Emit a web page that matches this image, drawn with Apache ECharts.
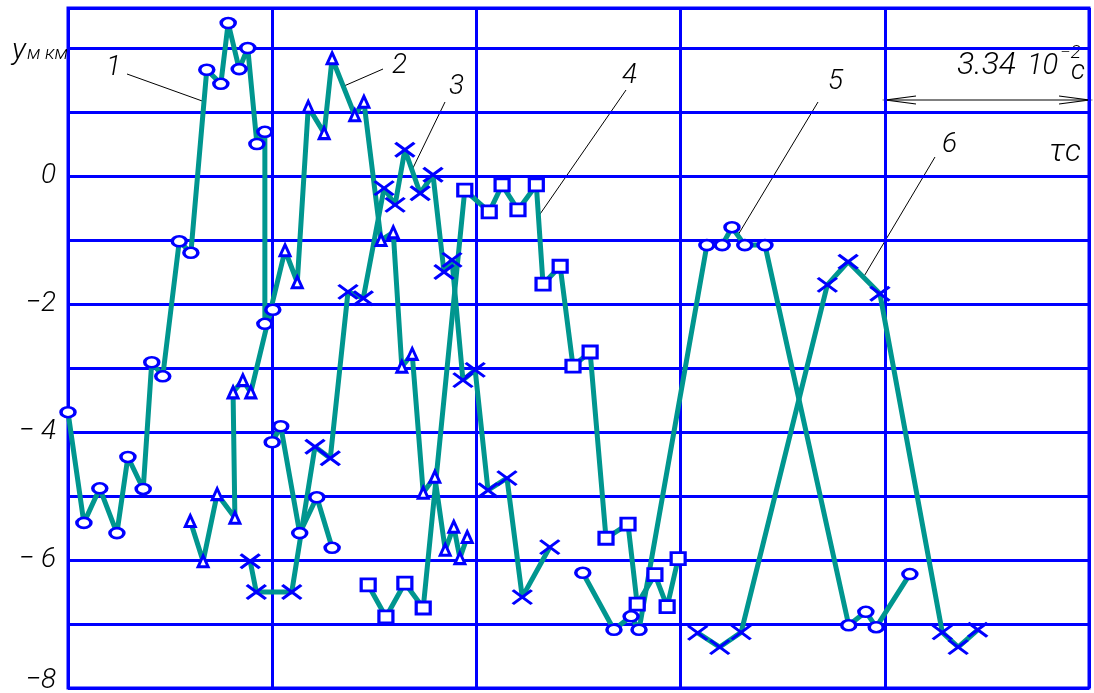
<!DOCTYPE html>
<html><head><meta charset="utf-8">
<script src="https://cdn.jsdelivr.net/npm/echarts@6/dist/echarts.min.js"></script>
<style>html,body{margin:0;padding:0;background:#fff;}#c{width:1094px;height:693px;}</style>
</head><body><div id="c"></div>
<script>
// τ in 10^-2 s, y in µm
const curve1a = [[0,-3.69],[0.26,-5.42],[0.52,-4.88],[0.80,-5.58],[0.98,-4.39],[1.23,-4.89],[1.37,-2.91],[1.55,-3.13],[1.82,-1.02],[2.01,-1.20],[2.27,1.66],[2.50,1.44],[2.62,2.39],[2.80,1.67],[2.94,2.00],[3.09,0.50],[3.22,0.69],[3.22,-2.31],[3.35,-2.09]];
const curve1b = [[3.34,-4.16],[3.48,-3.91],[3.79,-5.58],[4.07,-5.02],[4.32,-5.81]];
const curve2 = [[2.00,-5.39],[2.21,-6.02],[2.44,-4.97],[2.73,-5.34],[2.70,-3.38],[2.86,-3.19],[2.99,-3.38],[3.55,-1.16],[3.75,-1.66],[3.93,1.08],[4.19,0.67],[4.32,1.84],[4.69,0.95],[4.84,1.16],[5.12,-1.00],[5.32,-0.88],[5.46,-2.98],[5.63,-2.78],[5.81,-4.95],[6.00,-4.70],[6.17,-5.84],[6.31,-5.48],[6.41,-5.97],[6.53,-5.64]];
const curve3 = [[2.98,-6.02],[3.08,-6.50],[3.66,-6.50],[4.04,-4.23],[4.29,-4.41],[4.58,-1.81],[4.83,-1.91],[5.17,-0.19],[5.35,-0.45],[5.51,0.41],[5.76,-0.27],[5.97,0.02],[6.15,-1.50],[6.28,-1.31],[6.46,-3.19],[6.66,-3.03],[6.87,-4.91],[7.18,-4.72],[7.43,-6.58],[7.88,-5.80]];
const curve4 = [[4.91,-6.39],[5.20,-6.89],[5.51,-6.36],[5.81,-6.75],[6.49,-0.22],[6.89,-0.56],[7.10,-0.14],[7.36,-0.53],[7.66,-0.14],[7.77,-1.69],[8.05,-1.41],[8.26,-2.97],[8.54,-2.75],[8.80,-5.66],[9.16,-5.44],[9.31,-6.69],[9.60,-6.23],[9.80,-6.73],[9.98,-5.98]];
const curve5 = [[8.42,-6.20],[8.93,-7.09],[9.21,-6.88],[9.34,-7.09],[10.45,-1.08],[10.70,-1.08],[10.86,-0.80],[11.07,-1.08],[11.40,-1.08],[12.77,-7.02],[13.05,-6.81],[13.22,-7.05],[13.77,-6.22]];
const curve6 = [[10.30,-7.14],[10.66,-7.36],[11.01,-7.13],[12.42,-1.70],[12.76,-1.34],[13.28,-1.84],[14.30,-7.13],[14.56,-7.36],[14.88,-7.09]];
const yTickLabels = {'0':'0','-2':'−2','-4':'− 4','-6':'− 6','-8':'−8'};
const xPeriod = 3.34;

const TEAL = '#00968f', BLUE = '#0000ff';
const FONT = 'Roboto';
const XSYM = 'path://M0,0L19,14M0,14L19,0';
function mk(name, data, symbol, size) {
  return {
    type: 'line', name, data, symbol, symbolSize: size, clip: false,
    lineStyle: { color: TEAL, width: 5 },
    itemStyle: { color: '#fff', borderColor: BLUE, borderWidth: 3 },
    emphasis: { disabled: true }
  };
}
const chart = echarts.init(document.getElementById('c'));
function txt(x, y, s, size) {
  return { type: 'text', x, y, style: { text: s, fill: '#000', font: 'italic 300 ' + size + 'px ' + FONT } };
}
function ln(x1, y1, x2, y2) {
  return { type: 'line', shape: { x1, y1, x2, y2 }, style: { stroke: '#000', lineWidth: 1 } };
}
const labelFont = { fontFamily: FONT, fontStyle: 'italic', fontWeight: 300, fontSize: 28, color: '#000' };
chart.setOption({
  animation: false,
  backgroundColor: '#fff',
  grid: { left: 68, right: 5, top: 8, bottom: 5, containLabel: false, outerBoundsMode: 'none', show: true, borderColor: BLUE, borderWidth: 3, backgroundColor: 'transparent' },
  xAxis: {
    type: 'value', min: 0, max: xPeriod * 5, interval: xPeriod,
    axisLine: { show: false }, axisTick: { show: false }, axisLabel: { show: false },
    splitLine: { show: true, lineStyle: { color: BLUE, width: 3 } }
  },
  yAxis: {
    type: 'value', min: -8, max: 2.625, interval: 1,
    axisLine: { show: false }, axisTick: { show: false },
    axisLabel: Object.assign({
      margin: 12,
      formatter: v => {
        const k = String(Math.round(v * 1000) / 1000);
        if (yTickLabels[k] === undefined) return '';
        return k === '-8' ? '{low|' + yTickLabels[k] + '}' : yTickLabels[k];
      },
      rich: { low: Object.assign({ padding: [0, 0, 14, 0] }, labelFont) }
    }, labelFont),
    splitLine: { show: true, lineStyle: { color: BLUE, width: 3 } }
  },
  series: [
    mk('1a', curve1a, 'circle', [14, 10]),
    mk('1b', curve1b, 'circle', [14, 10]),
    mk('2', curve2, 'triangle', [10, 11]),
    mk('3', curve3, XSYM, [19, 14]),
    mk('4', curve4, 'rect', [14, 12]),
    mk('5', curve5, 'circle', [14, 10]),
    mk('6', curve6, XSYM, [19, 14])
  ],
  graphic: [
    txt(12, 36, 'y', 30),
    txt(27, 45, 'м км', 19),
    txt(106, 54, '1', 28), txt(392, 52, '2', 28), txt(449, 73, '3', 28),
    txt(622, 62, '4', 28), txt(828, 68, '5', 28), txt(942, 131, '6', 28),
    txt(1049, 137, 'τс', 32),
    txt(957, 50, '3.34', 32), txt(1027, 52, '10', 29), txt(1060, 44, '−2', 19), txt(1071, 58, 'с', 28),
    ln(127, 74, 205, 102), ln(383, 69, 344, 86), ln(445, 102, 412, 170),
    ln(626, 90, 538, 217), ln(818, 102, 738, 235), ln(935, 157, 863, 278),
    ln(886, 100, 1089, 100),
    { type: 'polyline', shape: { points: [[916, 96], [886, 100], [916, 104]] }, style: { stroke: '#000', lineWidth: 1.2, fill: 'none' } },
    { type: 'polyline', shape: { points: [[1059, 96], [1089, 100], [1059, 104]] }, style: { stroke: '#000', lineWidth: 1.2, fill: 'none' } }
  ]
});
</script></body></html>
